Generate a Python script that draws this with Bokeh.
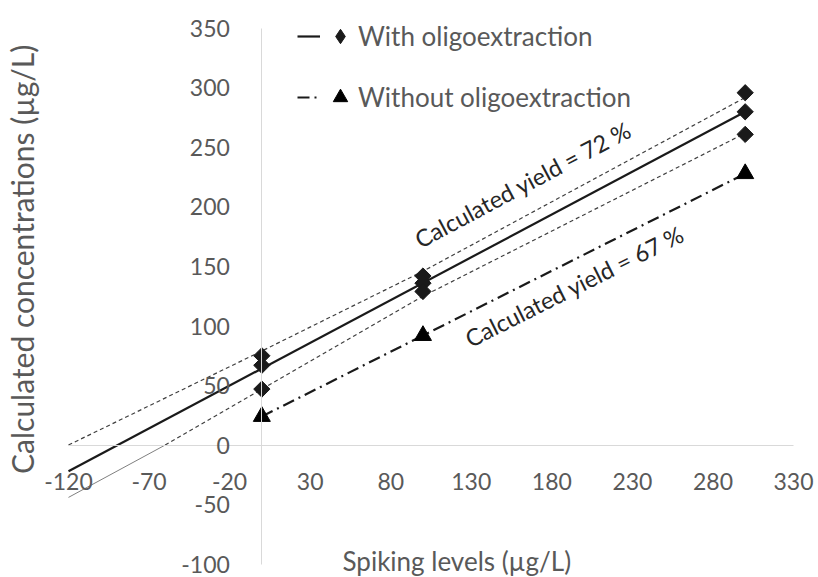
import math
from bokeh.plotting import figure
from bokeh.models import (Range1d, LinearAxis, FixedTicker, Label, Legend,
                          LegendItem)
from bokeh.embed import file_html
from bokeh.resources import INLINE

# ---- data ----
spike_with = [0, 0, 0, 100, 100, 100, 300, 300, 300]
conc_with = [75, 67, 47, 142, 136, 129, 296, 280, 261]
spike_without = [0, 100, 300]
conc_without = [24, 92, 228]

fit_with_x = [-120, 300]
fit_with_y = [-22, 280]
fit_without_x = [0, 300]
fit_without_y = [24, 228]

upper_x = [-120, 0, 100, 300]
upper_y = [0, 79, 146, 292]
lower_x = [-120, -60, 0, 100, 300]
lower_y = [-44, 0, 47, 125, 262]

x_ticks = [-120, -70, -20, 30, 80, 130, 180, 230, 280, 330]
y_ticks = [-100, -50, 0, 50, 100, 150, 200, 250, 300, 350]
x_bounds = (-120, 330)
y_bounds = (-100, 350)

x_title = "Spiking levels (µg/L)"
y_title = "Calculated concentrations (µg/L)"
legend_labels = ["With oligoextraction", "Without oligoextraction"]
yield_labels = ["Calculated yield = 72 %", "Calculated yield = 67 %"]

FONT = "Lato"
GREY = "#595959"
INK = "#1a1a1a"

p = figure(width=818, height=577,
           x_range=Range1d(-162.2, 345.5), y_range=Range1d(-111.3, 373.5),
           output_backend="svg", toolbar_location=None,
           x_axis_location=None, y_axis_location=None,
           min_border_left=0, min_border_right=0,
           min_border_top=0, min_border_bottom=0)
p.outline_line_color = None
p.xgrid.visible = False
p.ygrid.visible = False
p.background_fill_color = "white"
p.border_fill_color = "white"

def style_axis(ax, ticks):
    ax.major_tick_line_color = None
    ax.minor_tick_line_color = None
    ax.axis_line_color = "#d9d9d9"
    ax.axis_line_width = 1
    ax.major_label_text_font = FONT
    ax.major_label_text_font_size = "23px"
    ax.major_label_text_color = GREY
    ax.major_label_overrides = {t: str(t) for t in ticks}

xax = LinearAxis(fixed_location=0, ticker=FixedTicker(ticks=x_ticks), bounds=x_bounds)
style_axis(xax, x_ticks)
xax.major_label_standoff = 22
p.add_layout(xax, "below")

yax = LinearAxis(fixed_location=0, ticker=FixedTicker(ticks=y_ticks), bounds=y_bounds)
style_axis(yax, y_ticks)
yax.major_label_standoff = 26
p.add_layout(yax, "left")

# band lines
p.line(upper_x, upper_y, line_color="#404040", line_width=1.2, line_dash="4 3")
p.line(lower_x[:2], lower_y[:2], line_color="#808080", line_width=1)
p.line(lower_x[1:], lower_y[1:], line_color="#404040", line_width=1.2, line_dash="4 3")

r_fit_with = p.line(fit_with_x, fit_with_y, line_color=INK, line_width=2.2)
r_fit_without = p.line(fit_without_x, fit_without_y, line_color=INK,
                       line_width=2.2, line_dash="12 5 2 5")

p.scatter(spike_with, conc_with, marker="square", angle=math.pi / 4,
          size=11.5, fill_color=INK, line_color=INK)
p.scatter(spike_without, conc_without, marker="triangle",
          size=17, fill_color="black", line_color="black")

# hidden proxies: marker shapes for the legend
r_leg_dia = p.scatter(spike_with, conc_with, marker="diamond",
                      fill_color=INK, line_color=INK, visible=False)
r_leg_tri = p.scatter(spike_without, conc_without, marker="triangle",
                      fill_color="black", line_color="black", visible=False)

common = dict(glyph_height=36, label_height=36, spacing=25, padding=0, margin=0,
              border_line_color=None, background_fill_alpha=0)
leg_lines = Legend(items=[LegendItem(label=" ", renderers=[r_fit_with]),
                          LegendItem(label=" ", renderers=[r_fit_without])],
                   location=(297, 462), glyph_width=23,
                   label_text_font_size="4px", label_standoff=0, label_width=0,
                   **common)
leg_marks = Legend(items=[LegendItem(label=legend_labels[0], renderers=[r_leg_dia]),
                          LegendItem(label=legend_labels[1], renderers=[r_leg_tri])],
                   location=(322, 462), glyph_width=36,
                   label_text_font=FONT, label_text_font_size="26px",
                   label_text_color=GREY, label_standoff=0, **common)
p.add_layout(leg_lines)
p.add_layout(leg_marks)

# yield annotations
p.add_layout(Label(x=162, y=219, text=yield_labels[0], angle=math.radians(28),
                   text_align="center", text_baseline="middle",
                   text_font=FONT, text_font_size="23.5px", text_color="#262626"))
p.add_layout(Label(x=194, y=133.5, text=yield_labels[1], angle=math.radians(26.6),
                   text_align="center", text_baseline="middle",
                   text_font=FONT, text_font_size="23.5px", text_color="#262626"))

# axis titles
p.add_layout(Label(x=121, y=-110.5, text=x_title, text_align="center",
                   text_baseline="bottom", text_font=FONT,
                   text_font_size="26px", text_color=GREY))
p.add_layout(Label(x=-148.6, y=156, text=y_title, angle=math.pi / 2,
                   text_align="center", text_baseline="middle",
                   text_font=FONT, text_font_size="30px", text_color=GREY))

open("out.html", "w").write(file_html(p, INLINE))
